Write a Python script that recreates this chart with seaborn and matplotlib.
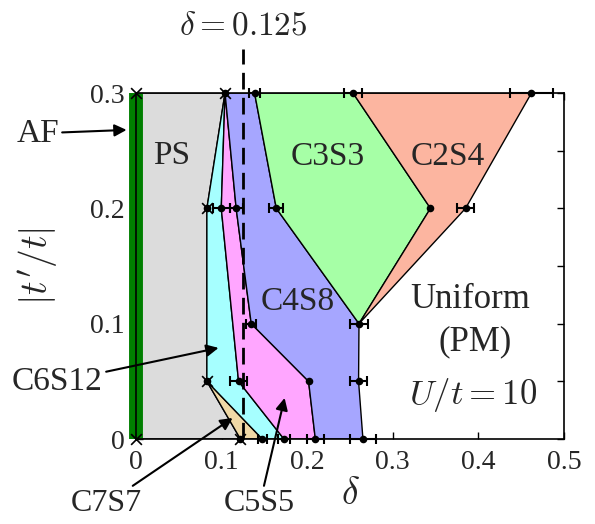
import numpy as np
import matplotlib
matplotlib.use("Agg")
import matplotlib.pyplot as plt
import seaborn as sns

# phase boundaries (delta, |t'/t|)
ps_region = [(0, 0), (0.122, 0), (0.0828, 0.05), (0.0828, 0.2), (0.104, 0.3), (0, 0.3)]
c7s7_region = [(0.0828, 0.05), (0.122, 0), (0.1475, 0)]
c6s12_region = [(0.0828, 0.05), (0.1475, 0), (0.1728, 0), (0.1198, 0.05),
                (0.0996, 0.2), (0.104, 0.3), (0.0828, 0.2)]
c5s5_region = [(0.1728, 0), (0.2095, 0), (0.2016, 0.05), (0.1346, 0.1),
               (0.117, 0.2), (0.104, 0.3), (0.0996, 0.2), (0.1198, 0.05)]
c4s8_region = [(0.2095, 0), (0.2651, 0), (0.26, 0.05), (0.2605, 0.1), (0.1639, 0.2),
               (0.1385, 0.3), (0.104, 0.3), (0.117, 0.2), (0.1346, 0.1), (0.2016, 0.05)]
c3s3_region = [(0.1385, 0.3), (0.2535, 0.3), (0.344, 0.2), (0.2605, 0.1), (0.1639, 0.2)]
c2s4_region = [(0.2535, 0.3), (0.462, 0.3), (0.385, 0.2), (0.2605, 0.1), (0.344, 0.2)]

# measured transition points with x error bars
err_delta = [0.1385, 0.2535, 0.462, 0.0996, 0.117, 0.1639, 0.385,
             0.1346, 0.2605, 0.1198, 0.26, 0.1475, 0.1728, 0.2095, 0.2651]
err_tp = [0.3, 0.3, 0.3, 0.2, 0.2, 0.2, 0.2, 0.1, 0.1, 0.05, 0.05, 0, 0, 0, 0]
err_size = [0.006, 0.010, 0.025, 0.010, 0.0075, 0.008, 0.010,
            0.006, 0.011, 0.0097, 0.010, 0.005, 0.007, 0.010, 0.0156]
# points without error bars
dot_delta = [0.344, 0.2016, 0.104, 0.0828, 0.0828, 0.122]
dot_tp = [0.2, 0.05, 0.3, 0.2, 0.05, 0]
# cross markers
cross_delta = [0, 0.104, 0.0828, 0.0828, 0, 0.122]
cross_tp = [0.3, 0.3, 0.2, 0.05, 0, 0]

sns.set_theme(style="ticks")
plt.rcParams["font.family"] = ["Liberation Serif", "DejaVu Serif"]
plt.rcParams["mathtext.fontset"] = "cm"

fig, ax = plt.subplots(figsize=(5.95, 5.24), dpi=100)
fig.subplots_adjust(left=0.2286, right=0.9479, bottom=0.1622, top=0.8225)

fills = [
    (ps_region, "#dcdcdc"),
    (c7s7_region, "#f0d9a6"),
    (c6s12_region, "#a6ffff"),
    (c5s5_region, "#ffa6ff"),
    (c4s8_region, "#a6a6ff"),
    (c3s3_region, "#a6ffa6"),
    (c2s4_region, "#fcb5a0"),
]
for poly, col in fills:
    xs, ys = zip(*poly)
    ax.fill(xs, ys, facecolor=col, edgecolor="black", linewidth=1.0, zorder=1)

# AF line at delta = 0
ax.plot([0, 0], [0, 0.3], color="#007f00", lw=10, solid_capstyle="butt",
        clip_on=False, zorder=2.4)

# delta = 0.125 dashed line
ax.plot([0.125, 0.125], [0, 0.338], color="black", lw=2, dashes=(6, 3),
        clip_on=False, zorder=3)
ax.text(0.125, 0.358, r"$\delta = 0.125$", ha="center", va="center",
        fontsize=24, clip_on=False)

ax.errorbar(err_delta, err_tp, xerr=err_size, fmt="none", ecolor="black",
            elinewidth=1.5, capsize=3.5, capthick=1.5, zorder=4, clip_on=False)
sns.scatterplot(x=err_delta + dot_delta, y=err_tp + dot_tp, color="black",
                s=30, edgecolor="black", linewidth=0, zorder=5, ax=ax, clip_on=False)
sns.scatterplot(x=cross_delta, y=cross_tp, color="black", marker="x",
                s=60, linewidth=1.2, zorder=5, ax=ax, clip_on=False)

# region labels
lab_fs = 24
ax.text(0.0415, 0.2455, "PS", ha="center", va="center", fontsize=lab_fs)
ax.text(0.2244, 0.2446, "C3S3", ha="center", va="center", fontsize=lab_fs)
ax.text(0.364, 0.2446, "C2S4", ha="center", va="center", fontsize=lab_fs)
ax.text(0.1888, 0.1188, "C4S8", ha="center", va="center", fontsize=lab_fs)
ax.text(0.39, 0.1206, "Uniform", ha="center", va="center", fontsize=lab_fs + 1)
ax.text(0.3957, 0.0841, "(PM)", ha="center", va="center", fontsize=lab_fs + 1)
ax.text(0.3933, 0.0382, r"$U/t = 10$", ha="center", va="center", fontsize=25)

arrow = dict(arrowstyle="-|>", color="black", lw=1.5, mutation_scale=18,
             shrinkA=0, shrinkB=0)
ax.annotate("AF", xy=(-0.011, 0.268), xytext=(-0.115, 0.265),
            ha="center", va="center", fontsize=lab_fs, arrowprops=arrow,
            annotation_clip=False)
ax.annotate("C6S12", xy=(0.0964, 0.079), xytext=(-0.0918, 0.0494),
            ha="center", va="center", fontsize=lab_fs, arrowprops=arrow,
            annotation_clip=False)
ax.annotate("C7S7", xy=(0.1128, 0.0182), xytext=(-0.0344, -0.0560),
            ha="center", va="center", fontsize=23, arrowprops=arrow,
            annotation_clip=False)
ax.annotate("C5S5", xy=(0.1736, 0.0356), xytext=(0.1446, -0.0560),
            ha="center", va="center", fontsize=23, arrowprops=arrow,
            annotation_clip=False)

ax.set_xlim(0, 0.5)
ax.set_ylim(0, 0.3)
ax.set_xticks([0, 0.1, 0.2, 0.3, 0.4, 0.5])
ax.set_xticklabels(["0", "0.1", "0.2", "0.3", "0.4", "0.5"])
ax.set_yticks([0, 0.1, 0.2, 0.3])
ax.set_yticklabels(["0", "0.1", "0.2", "0.3"])
ax.set_yticks([0.05, 0.15, 0.25], minor=True)
ax.tick_params(which="both", direction="in", top=True, right=True,
               length=5, width=1, labelsize=20, pad=8, color="black")
for sp in ax.spines.values():
    sp.set_visible(True)
    sp.set_color("black")
    sp.set_linewidth(1.2)
ax.set_xlabel(r"$\delta$", fontsize=27, labelpad=2)
ax.set_ylabel(r"$|t^{\prime}/t|$", fontsize=27, labelpad=22)

fig.savefig("out.png", dpi=100)
